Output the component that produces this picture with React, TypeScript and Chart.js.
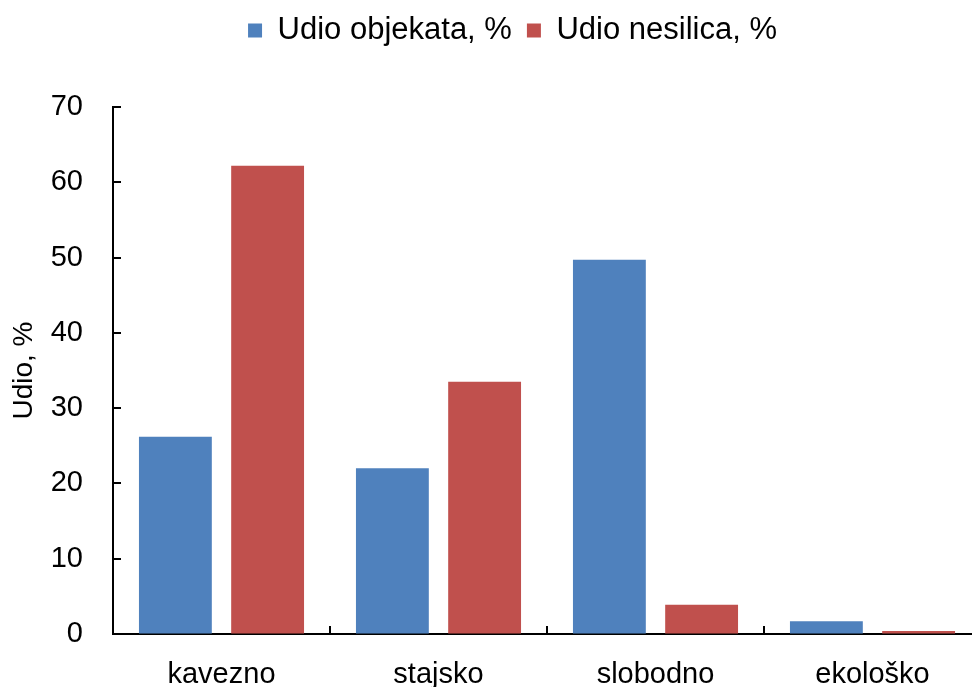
import React, { useEffect, useRef } from "react";
import { Chart, registerables } from "chart.js";

Chart.register(...registerables);

const categories = ["kavezno", "stajsko", "slobodno", "ekološko"];
const udioObjekata = [26.2, 22.0, 49.7, 1.7];
const udioNesilica = [62.2, 33.5, 3.9, 0.4];
const seriesLabels = ["Udio objekata, %", "Udio nesilica, %"];
const yTitle = "Udio, %";
const yMin = 0;
const yMax = 70;
const yStep = 10;

export default function App() {
  const ref = useRef<HTMLCanvasElement | null>(null);
  useEffect(() => {
    document.body.style.margin = "0";
    document.body.style.overflow = "hidden";
    const canvas = ref.current!;
    const font = "'Liberation Sans', Arial, sans-serif";
    const chart = new Chart(canvas, {
      type: "bar",
      data: {
        labels: categories,
        datasets: [
          {
            label: seriesLabels[0],
            data: udioObjekata,
            backgroundColor: "#4F81BD",
            barPercentage: 0.79,
            categoryPercentage: 0.85,
          },
          {
            label: seriesLabels[1],
            data: udioNesilica,
            backgroundColor: "#C0504D",
            barPercentage: 0.79,
            categoryPercentage: 0.85,
          },
        ],
      },
      options: {
        animation: false,
        responsive: false,
        maintainAspectRatio: false,
        layout: { padding: 0 },
        plugins: {
          tooltip: { enabled: false },
          legend: {
            position: "top",
            labels: {
              boxWidth: 14,
              boxHeight: 14,
              color: "#000",
              font: { family: font, size: 31 },
              padding: 15,
            },
          },
        },
        scales: {
          x: {
            afterFit: (s: any) => {
              s.height = 53;
            },
            grid: {
              display: true,
              drawOnChartArea: false,
              drawTicks: false,
            },
            border: { display: true, color: "#000", width: 2 },
            ticks: {
              color: "#000",
              font: { family: font, size: 29 },
              padding: 24,
              maxRotation: 0,
            },
          },
          y: {
            min: yMin,
            max: yMax,
            afterFit: (s: any) => {
              s.width = 113;
            },
            grid: {
              display: true,
              drawOnChartArea: false,
              drawTicks: false,
            },
            border: { display: true, color: "#000", width: 2 },
            ticks: {
              stepSize: yStep,
              color: "#000",
              font: { family: font, size: 29 },
              padding: 30,
            },
            title: {
              display: true,
              text: yTitle,
              color: "#000",
              font: { family: font, size: 28 },
              padding: { top: 7, bottom: 0 },
            },
          },
        },
      },
      plugins: [
        {
          id: "shiftLegend",
          afterLayout(c: any) {
            if (c.legend) {
              c.legend.left += 22;
              c.legend.right += 22;
            }
          },
        },
        {
          id: "innerTicks",
          afterDraw(c: any) {
            const ctx = c.ctx;
            const xs = c.scales.x;
            const ys = c.scales.y;
            ctx.save();
            ctx.strokeStyle = "#000";
            ctx.lineWidth = 2;
            ctx.beginPath();
            ys.ticks.forEach((_t: any, i: number) => {
              const py = Math.round(ys.getPixelForTick(i));
              ctx.moveTo(xs.left, py);
              ctx.lineTo(xs.left + 8, py);
            });
            for (let i = 1; i < categories.length; i++) {
              const px = Math.round(
                (xs.getPixelForValue(i - 1) + xs.getPixelForValue(i)) / 2
              );
              ctx.moveTo(px, ys.bottom);
              ctx.lineTo(px, ys.bottom - 8);
            }
            ctx.stroke();
            ctx.restore();
          },
        },
      ],
    });
    const lg: any = chart.legend;
    if (lg) {
      const origFit = lg.fit.bind(lg);
      lg.fit = function () {
        origFit();
        this.height = 107;
      };
      chart.update();
    }
    return () => chart.destroy();
  }, []);
  return (
    <div style={{ width: 972, height: 687, position: "relative", overflow: "hidden" }}>
      <canvas ref={ref} width={981} height={687} style={{ width: 981, height: 687, display: "block" }} />
    </div>
  );
}
